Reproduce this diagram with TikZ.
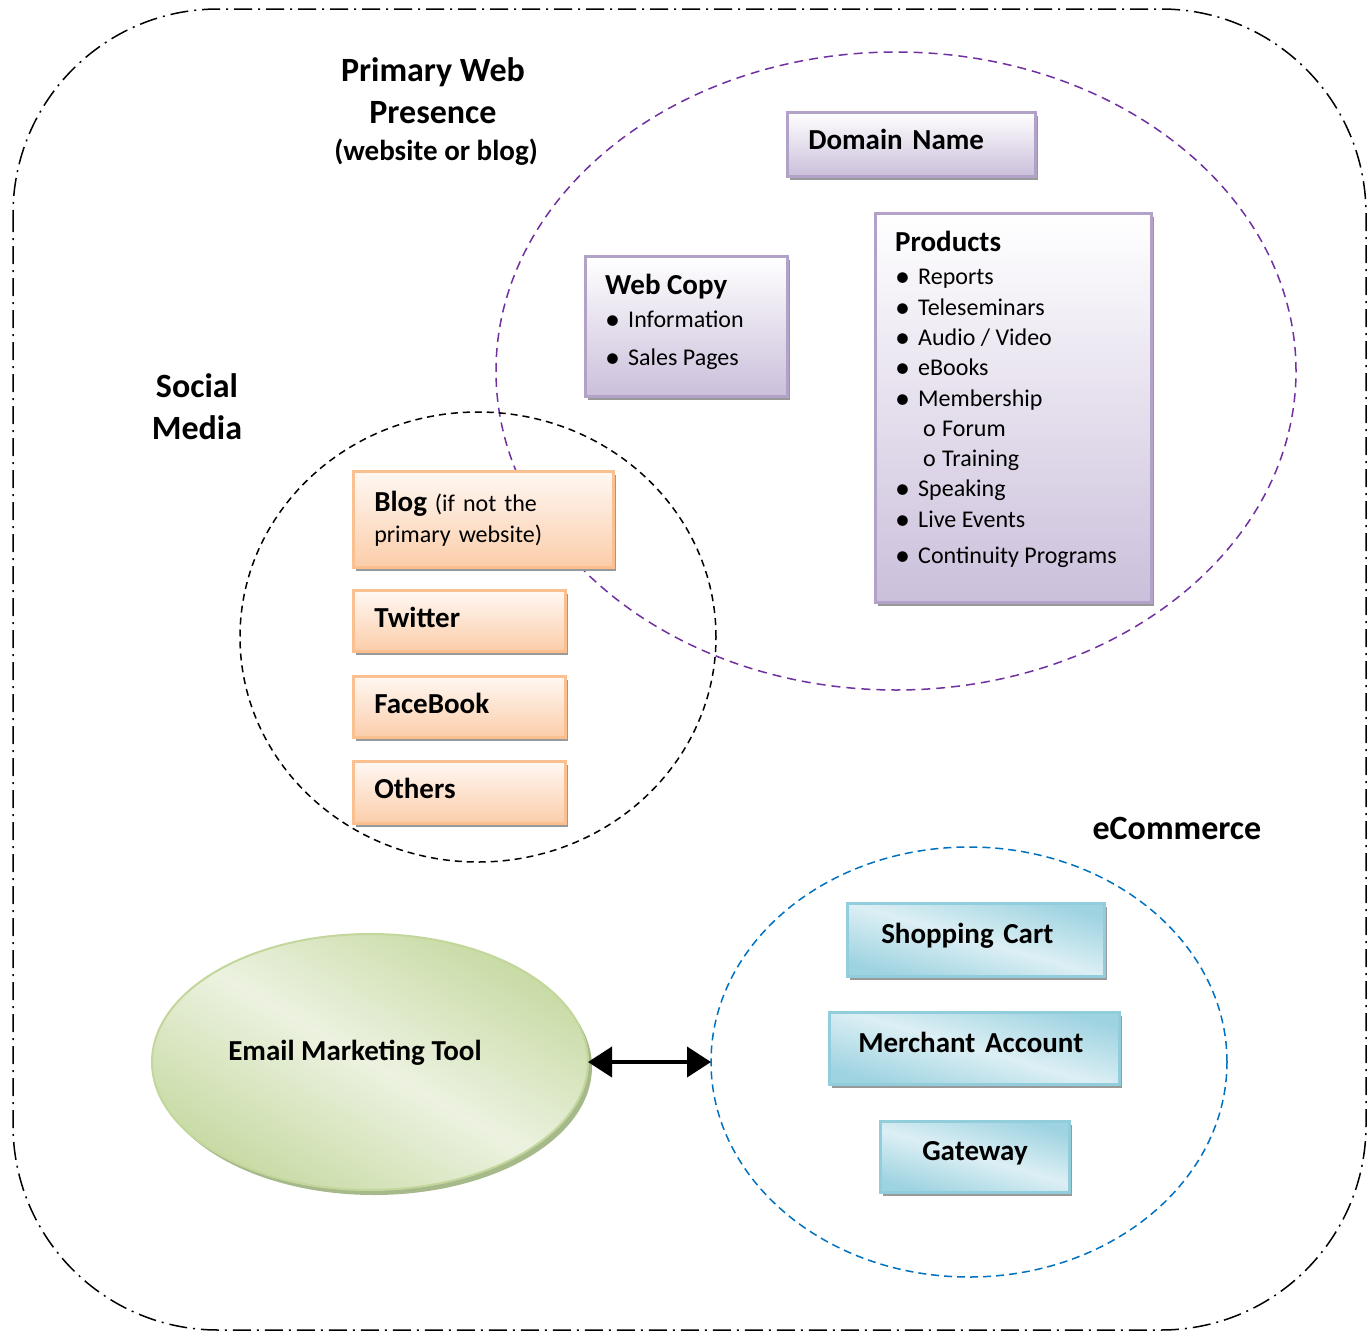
\documentclass[tikz,border=0pt]{standalone}
\usepackage{fontspec}
\setmainfont{Carlito}
\usetikzlibrary{positioning,shapes.geometric,shadows,arrows.meta}

\definecolor{webpurple}{HTML}{7030A0}
\definecolor{ecomblue}{HTML}{0070C0}
\definecolor{lilacline}{HTML}{B3A2C7}
\definecolor{lilacfill}{HTML}{CBBFDB}
\definecolor{peachline}{HTML}{FAC090}
\definecolor{peachtop}{HTML}{FFF8F3}
\definecolor{peachfill}{HTML}{FBCDAA}
\definecolor{aqualine}{HTML}{92CDDC}
\definecolor{aqualight}{HTML}{DCEFF4}
\definecolor{aquadark}{HTML}{9ED3E1}
\definecolor{leafline}{HTML}{C3D69B}
\definecolor{leaflight}{HTML}{ECF2E0}
\definecolor{leafdark}{HTML}{C7DAA3}
\definecolor{leafshadow}{HTML}{A6B98A}

\newcommand{\bigbold}{\fontsize{34}{42}\selectfont\bfseries}
\newcommand{\midbold}{\fontsize{29}{35}\selectfont\bfseries}
\newcommand{\listtext}{\fontsize{24}{30.3}\selectfont}
\newcommand{\bul}{\makebox[23pt][l]{\raisebox{-2pt}[0pt][0pt]{\fontsize{30}{30}\selectfont\textbullet}}}
\newcommand{\subbul}{\hspace*{28pt}\makebox[19pt][l]{o}}

\tikzset{
    boxshadow/.style={drop shadow={shadow xshift=3pt, shadow yshift=-4pt, fill=black!40, opacity=1}},
    ring/.style={ellipse, draw, line width=1.5pt, inner sep=0pt, outer sep=0pt},
    lilacbox/.style={rectangle, draw=lilacline, line width=2.5pt, top color=white, bottom color=lilacfill, boxshadow, anchor=north west, inner sep=0pt},
    peachbox/.style={rectangle, draw=peachline, line width=2.5pt, top color=peachtop, bottom color=peachfill, boxshadow, anchor=north west, inner xsep=21pt, inner ysep=0pt, align=left},
    aquabox/.style={rectangle, draw=aqualine, line width=2.5pt, top color=aquadark, bottom color=aquadark, middle color=aqualight, shading angle=-16, boxshadow,
        anchor=north west, inner ysep=0pt, align=left, text height=20pt, text depth=12pt, font=\midbold}
}

\begin{document}
\begin{tikzpicture}[x=1pt, y=-1pt]
    \useasboundingbox (0,0) rectangle (1368,1333);
    \draw[line width=1.5pt, dash pattern=on 18pt off 6pt on 2pt off 6pt, rounded corners=205pt] (13,9) rectangle (1366,1330);

    % the three groups
    \node[ring, draw=webpurple, dash pattern=on 9pt off 6pt, minimum width=800pt, minimum height=638pt] (web) at (896,371) {};
    \node[ring, draw=black, dash pattern=on 7pt off 5pt, minimum width=476pt, minimum height=450pt] (social) at (478,637) {};
    \node[ring, draw=ecomblue, dash pattern=on 8pt off 5pt, minimum width=516pt, minimum height=430pt] (ecom) at (969,1062) {};

    \node[font=\bigbold, align=center] (web-title) at (433,91) {Primary Web\\Presence};
    \node[font=\midbold] (web-sub) at (436,152) {(website or blog)};
    \node[font=\bigbold, align=center] (social-title) at (197,407) {Social\\Media};
    \node[font=\bigbold] (ecom-title) at (1177,828) {eCommerce};

    % web presence
    \node[lilacbox, minimum width=248pt, minimum height=64pt, inner xsep=21pt, text width=206pt, align=left, text height=20pt, text depth=9pt, font=\midbold] (domain) at (786,111) {Domain Name};
    \node[lilacbox, minimum width=202pt, minimum height=140pt] (copy) at (584,255) {};
    \node[anchor=north west, align=left, font=\listtext, inner sep=0pt] (copy-list) at ([xshift=21pt, yshift=-19pt]copy.north west)
        {{\midbold Web Copy}\\[3pt] \bul Information\\[7pt] \bul Sales Pages};
    \node[lilacbox, minimum width=276pt, minimum height=389pt] (prod) at (874,212) {};
    \node[anchor=north west, align=left, font=\listtext, inner sep=0pt] (prod-list) at ([xshift=21pt, yshift=-19pt]prod.north west)
        {{\midbold Products}\\[3pt] \bul Reports\\ \bul Teleseminars\\ \bul Audio / Video\\ \bul eBooks\\ \bul Membership\\
         \subbul Forum\\ \subbul Training\\ \bul Speaking\\ \bul Live Events\\[6pt] \bul Continuity Programs};

    % social media
    \node[peachbox, minimum height=96pt, text width=218pt, font=\fontsize{24}{31}\selectfont] (blog) at (352,470) {{\midbold Blog} (if not the\\primary website)};
    \node[peachbox, minimum height=61pt, text width=170pt, text height=20pt, text depth=7pt, font=\midbold] (twitter) at (352,589) {Twitter};
    \node[peachbox, minimum height=61pt, text width=170pt, text height=20pt, text depth=7pt, font=\midbold] (facebook) at (352,675) {FaceBook};
    \node[peachbox, minimum height=62pt, text width=170pt, text height=20pt, text depth=7pt, font=\midbold] (others) at (352,760) {Others};

    % ecommerce
    \node[aquabox, minimum width=257pt, minimum height=73pt, inner xsep=34pt, text width=189pt] (cart) at (846,902) {Shopping Cart};
    \node[aquabox, minimum width=290pt, minimum height=72pt, inner xsep=29pt, text width=232pt] (merchant) at (828,1011) {Merchant Account};
    \node[aquabox, minimum width=189pt, minimum height=71pt, inner xsep=42pt, text width=105pt] (gateway) at (879,1120) {Gateway};

    % email
    \node[ellipse, draw=leafline, line width=2pt, top color=leafdark, bottom color=leafdark, middle color=leaflight, shading angle=-30,
          drop shadow={shadow xshift=4pt, shadow yshift=-5pt, fill=leafshadow, opacity=1},
          minimum width=436pt, minimum height=256pt, inner sep=0pt, outer sep=0pt] (email) at (370,1062) {};
    \node[font=\midbold] (email-text) at (355,1053) {Email Marketing Tool};

    \draw[{Triangle[length=24pt,width=30pt]}-{Triangle[length=24pt,width=30pt]}, line width=4pt] (email.east) -- (ecom.west);
\end{tikzpicture}
\end{document}
